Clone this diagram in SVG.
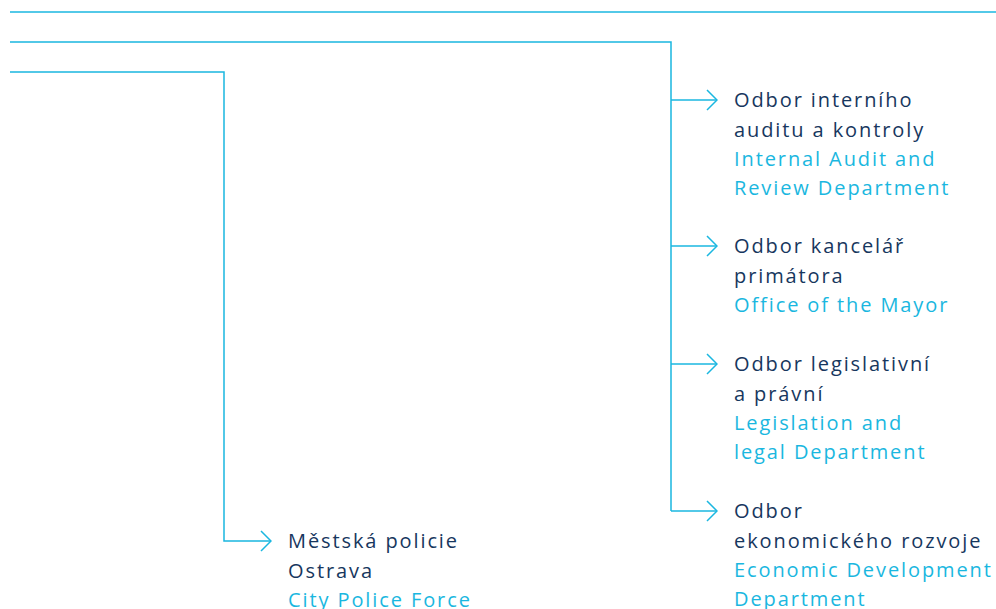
<svg xmlns="http://www.w3.org/2000/svg" width="996" height="609" viewBox="0 0 996 609">
<style>
.ln{fill:none;stroke:#1ab7e0;stroke-width:1.5}
text{font-family:"Open Sans","Noto Sans",sans-serif;font-size:20px;letter-spacing:1.9px}
.cz{fill:#17375e}
.en{fill:#1ab7e0}
</style>
<defs>
<marker id="arr" markerWidth="12" markerHeight="22" refX="11" refY="11" orient="auto" markerUnits="userSpaceOnUse">
<path d="M1,1 L11,11 L1,21" fill="none" stroke="#1ab7e0" stroke-width="1.5"/>
</marker>
</defs>
<g id="connectors">
<line class="ln" x1="10" y1="12" x2="996" y2="12"/>
<path class="ln" d="M10,42 H671 V511"/>
<path class="ln" d="M10,72 H224 V541 H271" marker-end="url(#arr)"/>
<path class="ln" d="M671,100 H717" marker-end="url(#arr)"/>
<path class="ln" d="M671,246 H717" marker-end="url(#arr)"/>
<path class="ln" d="M671,364 H717" marker-end="url(#arr)"/>
<path class="ln" d="M671,511 H717" marker-end="url(#arr)"/>
</g>
<g id="node-audit">
<text x="734" y="107" class="cz">Odbor interního</text>
<text x="734" y="137" class="cz">auditu a kontroly</text>
<text x="734" y="166" class="en">Internal Audit and</text>
<text x="734" y="195" class="en">Review Department</text>
</g>
<g id="node-mayor">
<text x="734" y="253" class="cz">Odbor kancelář</text>
<text x="734" y="283" class="cz">primátora</text>
<text x="734" y="312" class="en">Office of the Mayor</text>
</g>
<g id="node-legal">
<text x="734" y="371" class="cz">Odbor legislativní</text>
<text x="734" y="401" class="cz">a právní</text>
<text x="734" y="430" class="en">Legislation and</text>
<text x="734" y="459" class="en">legal Department</text>
</g>
<g id="node-economic">
<text x="734" y="518" class="cz">Odbor</text>
<text x="734" y="548" class="cz">ekonomického rozvoje</text>
<text x="734" y="577" class="en">Economic Development</text>
<text x="734" y="606" class="en">Department</text>
</g>
<g id="node-police">
<text x="288" y="548" class="cz">Městská policie</text>
<text x="288" y="578" class="cz">Ostrava</text>
<text x="288" y="607" class="en">City Police Force</text>
</g>
</svg>
